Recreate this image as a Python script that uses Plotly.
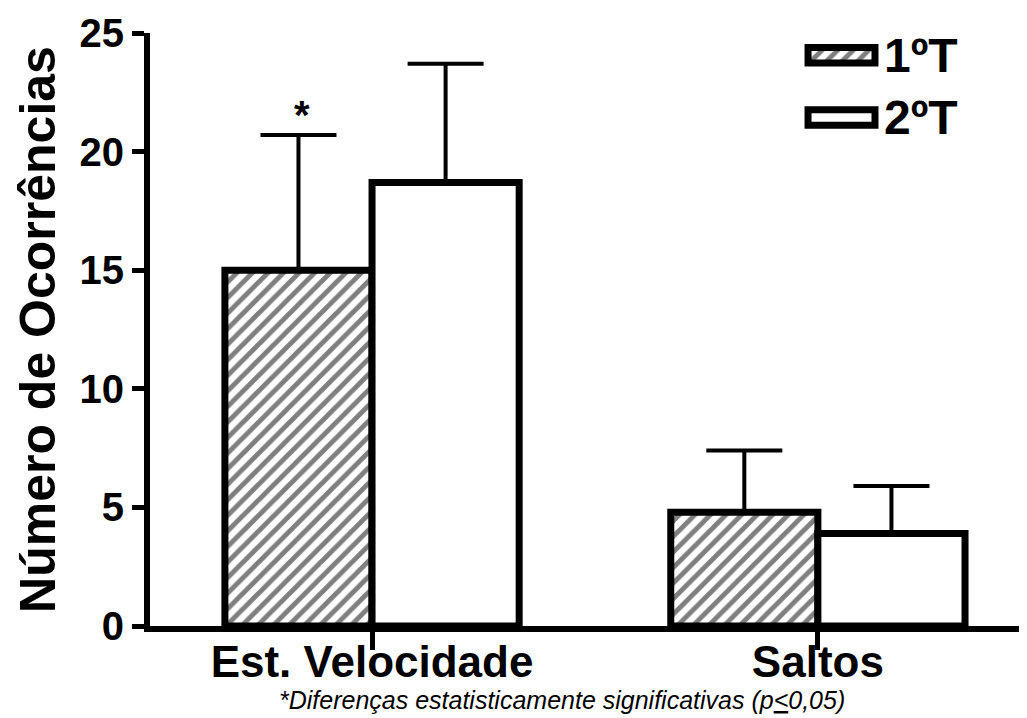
import plotly.graph_objects as go

# data
categorias = ["Est. Velocidade", "Saltos"]
media_1t = [15.0, 4.8]
erro_1t = [5.7, 2.6]
media_2t = [18.7, 3.9]
erro_2t = [5.0, 2.0]
series = ["1ºT", "2ºT"]
marcador = "*"
rodape = "*Diferenças estatisticamente significativas (p<u>&lt;</u>0,05)"

FONT = "Liberation Sans"
LW = 7
hatch = dict(shape="/", size=11, solidity=0.45, fgcolor="black", bgcolor="white")

fig = go.Figure()

fig.add_trace(go.Bar(
    x=categorias, y=media_1t, name=series[0], showlegend=False,
    marker=dict(color="white", line=dict(color="black", width=LW), pattern=hatch),
    error_y=dict(type="data", symmetric=False, array=erro_1t,
                 arrayminus=[0, 0], color="black", thickness=4, width=38),
))
fig.add_trace(go.Bar(
    x=categorias, y=media_2t, name=series[1], showlegend=False,
    marker=dict(color="white", line=dict(color="black", width=LW)),
    error_y=dict(type="data", symmetric=False, array=erro_2t,
                 arrayminus=[0, 0], color="black", thickness=4, width=38),
))

# legend swatches drawn in a small inset axis
fig.add_trace(go.Bar(
    y=[1], x=[1], base=0, orientation="h", width=0.25, xaxis="x2", yaxis="y2",
    showlegend=False, hoverinfo="skip",
    marker=dict(color="white", line=dict(color="black", width=LW), pattern=hatch),
))
fig.add_trace(go.Bar(
    y=[0], x=[1], base=0, orientation="h", width=0.25, xaxis="x2", yaxis="y2",
    showlegend=False, hoverinfo="skip",
    marker=dict(color="white", line=dict(color="black", width=LW)),
))

for yy, txt in zip([1, 0], series):
    fig.add_annotation(xref="x2", yref="y2", x=1.1, y=yy, text=txt,
                       xanchor="left", yanchor="middle", xshift=0, showarrow=False,
                       font=dict(family=FONT, size=48, weight="bold", color="black"))

fig.add_annotation(x=categorias[0], y=media_1t[0] + erro_1t[0], text=marcador,
                   xshift=-70, yshift=-4, yanchor="bottom", showarrow=False,
                   font=dict(family=FONT, size=40, weight="bold", color="black"))

fig.add_annotation(xref="paper", yref="paper", x=0.47, y=-0.124, text="<i>" + rodape + "</i>",
                   xanchor="center", yanchor="middle", showarrow=False,
                   font=dict(family=FONT, size=25, color="black"))

# page body adds an 8px margin, so the figure is sized 8px smaller
fig.update_layout(
    width=1019, height=710,
    margin=dict(l=142, r=0, t=25, b=92),
    plot_bgcolor="white", paper_bgcolor="white",
    barmode="group", bargap=0.34, bargroupgap=0,
    font=dict(family=FONT, color="black"),
    xaxis=dict(range=[-0.498, 1.469], showline=True, linewidth=6, linecolor="black",
               ticks="outside", ticklen=18, tickwidth=5, tickcolor="black",
               showgrid=False, zeroline=False, ticklabelstandoff=-26,
               tickfont=dict(family=FONT, size=44, weight="bold")),
    yaxis=dict(range=[0, 25], dtick=5, showline=True, linewidth=6, linecolor="black",
               ticks="outside", ticklen=12, tickwidth=5, tickcolor="black",
               showgrid=False, zeroline=False,
               tickfont=dict(family=FONT, size=40, weight="bold"),
               title=dict(text="Número de Ocorrências", standoff=10,
                          font=dict(family=FONT, size=50, weight="bold"))),
    xaxis2=dict(domain=[0.7427, 0.8343], range=[-0.1, 1.1], anchor="y2",
                visible=False, fixedrange=True),
    yaxis2=dict(domain=[0.8052, 0.9886], range=[-0.5, 1.25], anchor="x2",
                visible=False, fixedrange=True),
)

fig.write_html("out.html")
